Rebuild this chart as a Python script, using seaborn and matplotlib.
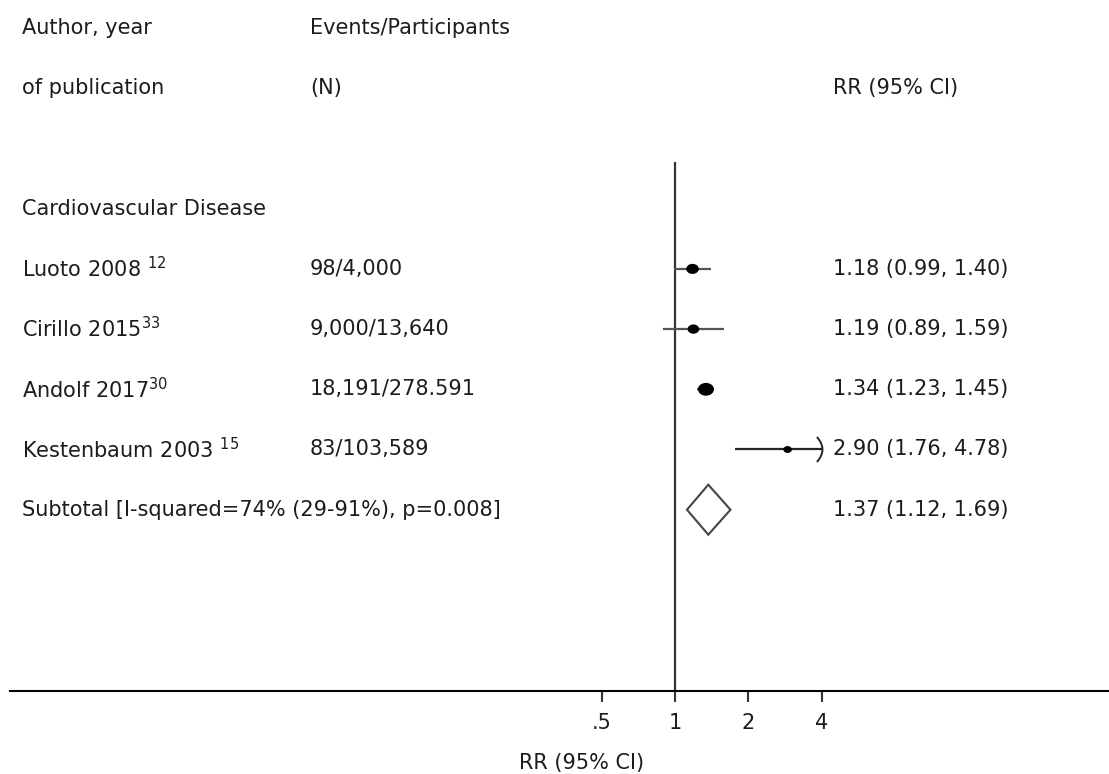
import numpy as np
import pandas as pd
import matplotlib
matplotlib.use("Agg")
import matplotlib.pyplot as plt
import seaborn as sns
from matplotlib.path import Path
from matplotlib.transforms import blended_transform_factory

# ---------------- data ----------------
header_col1 = ["Author, year", "of publication"]
header_col2 = ["Events/Participants", "(N)"]
header_col3 = "RR (95% CI)"
group_label = "Cardiovascular Disease"
studies = ["Luoto 2008", "Cirillo 2015", "Andolf 2017", "Kestenbaum 2003"]
refs = ["12", "33", "30", "15"]
ref_space = [True, False, False, True]
events = ["98/4,000", "9,000/13,640", "18,191/278.591", "83/103,589"]
rr = [1.18, 1.19, 1.34, 2.90]
lo = [0.99, 0.89, 1.23, 1.76]
hi = [1.40, 1.59, 1.45, 4.78]
weights = [12, 11, 16, 8.5]
sub_label = "Subtotal [I-squared=74% (29-91%), p=0.008]"
sub_rr, sub_lo, sub_hi = 1.37, 1.12, 1.69
ticks = [0.5, 1, 2, 4]
tick_labels = [".5", "1", "2", "4"]
xlabel = "RR (95% CI)"
x_display_max = 4

# ---------------- style ----------------
sns.set_theme(style="white")
plt.rcParams["font.family"] = ["DejaVu Sans"]
plt.rcParams["mathtext.fontset"] = "dejavusans"
TXT = "#1c1c1c"
FS = 15

W, H = 1109, 774
fig = plt.figure(figsize=(W / 100, H / 100), dpi=100)
fig.patch.set_facecolor("white")
ax = fig.add_axes([10 / W, 1 - 691 / H, 1099 / W, 691 / H])
ax.set_facecolor("white")

ax.set_xscale("log", base=2)
ppd = 73.3  # pixels per doubling
ax.set_xlim(2 ** ((10 - 675) / ppd), 2 ** ((1109 - 675) / ppd))
y0, dy = 28.1, 60.2
ax.set_ylim((691 - y0) / dy, (0 - y0) / dy)

rows = [4, 5, 6, 7]
sub_row = 8

df = pd.DataFrame({"study": studies, "rr": rr, "lo": lo, "hi": hi,
                   "row": rows, "weight": weights})

# reference line at 1
ax.plot([1, 1], [(162 - y0) / dy, (691 - y0) / dy], color="#333333", lw=1.6,
        solid_capstyle="butt", zorder=1)

# CI lines
hi_clip = np.minimum(df["hi"], x_display_max)
line_cols = ["#555555", "#555555", "#555555", "#262626"]
for r, l, h, c in zip(df["row"], df["lo"], hi_clip, line_cols):
    ax.plot([l, h], [r, r], color=c, lw=1.6, solid_capstyle="butt", zorder=2)

# truncated CI marker: thin ")" bracket
bracket = Path([(-0.45, -1.0), (0.45, 0.0), (-0.45, 1.0)],
               [Path.MOVETO, Path.CURVE3, Path.CURVE3])
for r, h in zip(df["row"], df["hi"]):
    if h > x_display_max:
        ax.plot([x_display_max], [r], marker=bracket, ms=18,
                markerfacecolor="none", markeredgecolor="#262626",
                markeredgewidth=1.4, linestyle="none", zorder=3)

# point estimates (horizontally stretched dots)
circ = Path.unit_circle()
ell = Path(circ.vertices * np.array([1.25, 1.0]), circ.codes)
sns.scatterplot(data=df, x="rr", y="row", size="weight", sizes=(38, 133),
                size_norm=(8.5, 16), marker=ell, color="black",
                edgecolor="none", legend=False, ax=ax, zorder=4)

# subtotal diamond
hd = 25 / dy
ax.fill([sub_lo, sub_rr, sub_hi, sub_rr],
        [sub_row, sub_row - hd, sub_row, sub_row + hd],
        facecolor="white", edgecolor="#444444", lw=1.5, zorder=3)

# axes styling
for s in ["left", "right", "top"]:
    ax.spines[s].set_visible(False)
ax.spines["bottom"].set_color("black")
ax.spines["bottom"].set_linewidth(1.5)
ax.set_yticks([])
ax.set_xticks(ticks)
ax.set_xticklabels(tick_labels)
ax.xaxis.set_minor_locator(matplotlib.ticker.NullLocator())
ax.tick_params(axis="x", direction="out", length=8, width=1.5, color="#333333",
               labelsize=FS, labelcolor=TXT, pad=8, bottom=True)
ax.set_xlabel("")
ax.set_ylabel("")
ax.grid(False)

fig.text(582 / W, 1 - 763 / H, xlabel, ha="center", va="center",
         fontsize=FS, color=TXT)

# text columns
tr = blended_transform_factory(fig.transFigure, ax.transData)
def put(xpx, row, s):
    ax.text(xpx / W, row, s, transform=tr, ha="left", va="center",
            fontsize=FS, color=TXT, clip_on=False)

put(22, 0, header_col1[0])
put(22, 1, header_col1[1])
put(310, 0, header_col2[0])
put(310, 1, header_col2[1])
put(833, 1, header_col3)
put(22, 3, group_label)
for r, name, ref, sp, ev, e, l, h in zip(rows, studies, refs, ref_space,
                                         events, rr, lo, hi):
    put(22, r, name + (" " if sp else "") + "$^{" + ref + "}$")
    put(310, r, ev)
    put(833, r, f"{e:.2f} ({l:.2f}, {h:.2f})")
put(22, sub_row, sub_label)
put(833, sub_row, f"{sub_rr:.2f} ({sub_lo:.2f}, {sub_hi:.2f})")

fig.savefig("out.png", dpi=100, facecolor="white")
